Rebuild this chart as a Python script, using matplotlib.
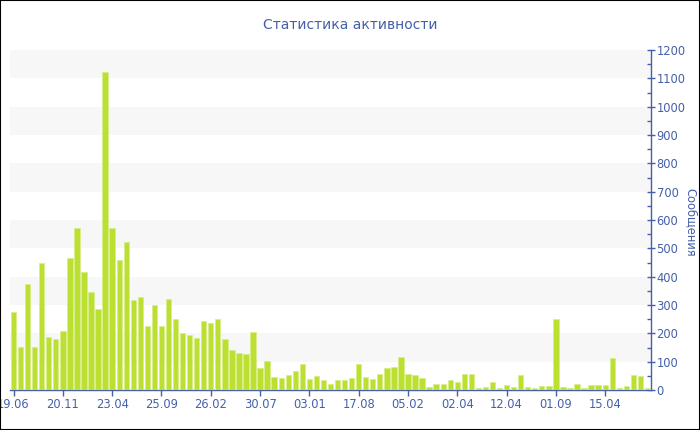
import matplotlib
matplotlib.use("Agg")
import matplotlib.pyplot as plt
from matplotlib.patches import Rectangle
from matplotlib.ticker import MultipleLocator

title = "Статистика активности"
y_label = "Сообщения"
tick_labels = ["19.06", "20.11", "23.04", "25.09", "26.02", "30.07", "03.01",
               "17.08", "05.02", "02.04", "12.04", "01.09", "15.04"]
tick_step = 7
values = [276, 152, 373, 152, 449, 187, 179, 208, 465, 573,
          416, 347, 287, 1124, 573, 458, 521, 317, 327, 225,
          299, 225, 320, 251, 202, 194, 184, 244, 236, 249,
          179, 142, 131, 126, 205, 79, 102, 45, 42, 53,
          66, 92, 39, 48, 37, 21, 37, 34, 44, 91,
          45, 38, 58, 79, 82, 115, 55, 52, 41, 12,
          21, 21, 37, 29, 55, 56, 6, 9, 27, 7,
          16, 11, 52, 9, 7, 14, 14, 252, 9, 7,
          22, 7, 16, 16, 16, 112, 7, 14, 54, 48, 7]

axis_color = "#4560a8"
bar_color = "#bbe031"

plt.rcParams['font.family'] = ['DejaVu Sans']
fig = plt.figure(figsize=(7, 4.3), dpi=100)
ax = fig.add_axes([10/700, 40/430, 641/700, 340/430])

n = len(values)
x = list(range(n))
ax.bar(x, values, width=0.76, color=bar_color, edgecolor="#d6ee86", linewidth=0.5, zorder=3)

ax.set_xlim(-0.5, n - 0.5)
ax.set_ylim(0, 1200)

# alternating bands
for lo in range(100, 1200, 200):
    ax.axhspan(lo, lo + 100, color="#f7f7f7", zorder=0, lw=0)

ax.yaxis.tick_right()
ax.yaxis.set_label_position("right")
ax.yaxis.set_major_locator(MultipleLocator(100))
ax.yaxis.set_minor_locator(MultipleLocator(50))
ax.tick_params(axis='y', which='major', direction='inout', length=6, width=1,
               color=axis_color, labelcolor=axis_color, labelsize=8.3, pad=1)
ax.tick_params(axis='y', which='minor', direction='in', length=3, width=1, color=axis_color)

ticks = list(range(0, n, tick_step))[:len(tick_labels)]
ax.set_xticks(ticks)
ax.set_xticklabels(tick_labels)
ax.tick_params(axis='x', direction='out', length=4, width=1, color=axis_color,
               labelcolor=axis_color, labelsize=8.3, pad=2)

for s in ["top", "left"]:
    ax.spines[s].set_visible(False)
for s in ["bottom", "right"]:
    ax.spines[s].set_color(axis_color)
    ax.spines[s].set_linewidth(1)

fig.text(691/700, 1 - 222/430, y_label, rotation=-90, ha='center', va='center',
         color=axis_color, fontsize=8.3)
fig.text(350/700, 1 - 25/430, title, ha='center', va='center',
         color=axis_color, fontsize=10)

fig.patches.append(Rectangle((0, 0), 1, 1, transform=fig.transFigure,
                             fill=False, edgecolor="black", linewidth=1.5))

fig.savefig("out.png", dpi=100)
